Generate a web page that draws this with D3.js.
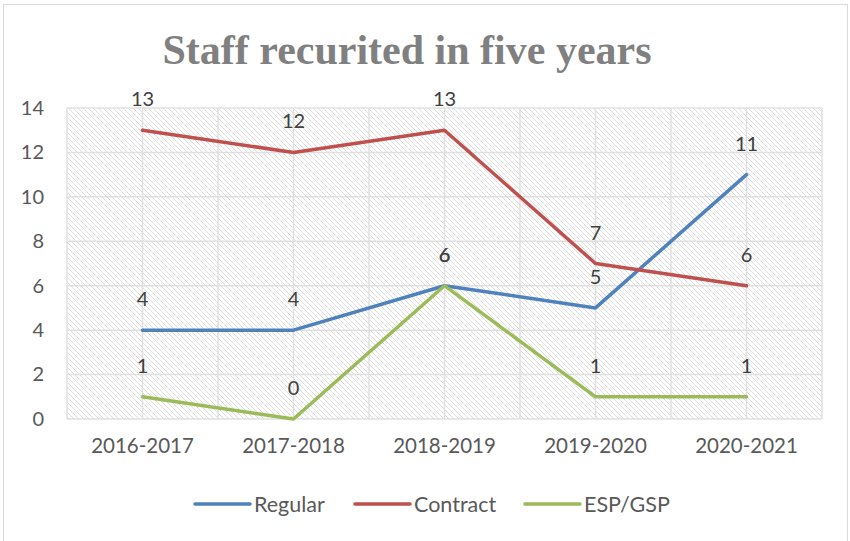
<!DOCTYPE html>
<html>
<head>
<meta charset="utf-8">
<script src="https://cdn.jsdelivr.net/npm/d3@7"></script>
<style>
  body { margin: 0; background: #fff; }
  svg { display: block; }
</style>
</head>
<body>
<svg id="chart" width="850" height="541"></svg>
<script>
(function() {
  var years = ["2016-2017", "2017-2018", "2018-2019", "2019-2020", "2020-2021"];
  var regular = [4, 4, 6, 5, 11];
  var contract = [13, 12, 13, 7, 6];
  var espGsp = [1, 0, 6, 1, 1];
  var yTicks = [0, 2, 4, 6, 8, 10, 12, 14];

  var series = [
    {name: "Regular", values: regular, color: "#4f81bd"},
    {name: "Contract", values: contract, color: "#c0504d"},
    {name: "ESP/GSP", values: espGsp, color: "#9bbb59"}
  ];

  var svg = d3.select("#chart"),
      left = 67, right = 822, top = 108, bottom = 419,
      font = "Lato, 'Open Sans', sans-serif";

  var x = d3.scaleBand().domain(years).range([left, right]),
      y = d3.scaleLinear().domain([0, 14]).range([bottom, top]),
      cx = function(i) { return x(years[i]) + x.bandwidth() / 2; };

  // outer chart border
  svg.append("rect")
    .attr("x", 3.5).attr("y", 4.5)
    .attr("width", 844).attr("height", 545)
    .attr("fill", "none").attr("stroke", "#d9d9d9");

  // hatch fill for the plot area
  var pat = svg.append("defs").append("pattern")
    .attr("id", "hatch")
    .attr("patternUnits", "userSpaceOnUse")
    .attr("width", 5).attr("height", 5);
  pat.append("path")
    .attr("d", "M-1,-1 L6,6 M-1,4 L1,6 M4,-1 L6,1")
    .attr("stroke", "#dadada").attr("stroke-width", 0.9);

  svg.append("rect")
    .attr("x", left).attr("y", top)
    .attr("width", right - left).attr("height", bottom - top)
    .attr("fill", "url(#hatch)");

  // gridlines
  var grid = svg.append("g").attr("stroke", "#e0e0e0").attr("stroke-width", 1.5);
  grid.selectAll(".h").data(yTicks).enter().append("line")
    .attr("x1", left).attr("x2", right)
    .attr("y1", function(d) { return y(d); })
    .attr("y2", function(d) { return y(d); });
  var vPos = [];
  years.forEach(function(c) { vPos.push(x(c), x(c) + x.bandwidth() / 2); });
  vPos.push(right);
  grid.selectAll(".v").data(vPos).enter().append("line")
    .attr("x1", function(d) { return d; }).attr("x2", function(d) { return d; })
    .attr("y1", top).attr("y2", bottom);

  // y axis labels
  var yAxis = svg.append("g").attr("transform", "translate(" + (left - 10) + ",0)")
    .call(d3.axisLeft(y).tickValues(yTicks).tickSize(0).tickPadding(13));
  yAxis.select(".domain").remove();
  yAxis.selectAll("text")
    .attr("font-family", font).attr("font-size", 20).attr("fill", "#595959");

  // x axis labels
  var xAxis = svg.append("g").attr("transform", "translate(0," + bottom + ")")
    .call(d3.axisBottom(x).tickSize(0).tickPadding(19));
  xAxis.select(".domain").remove();
  xAxis.selectAll("text")
    .attr("font-family", font).attr("font-size", 20.5).attr("fill", "#595959");

  // lines
  var line = d3.line()
    .x(function(d, i) { return cx(i); })
    .y(function(d) { return y(d); });

  svg.selectAll(".series").data(series).enter().append("path")
    .attr("d", function(s) { return line(s.values); })
    .attr("fill", "none")
    .attr("stroke", function(s) { return s.color; })
    .attr("stroke-width", 3.5)
    .attr("stroke-linejoin", "round")
    .attr("stroke-linecap", "round");

  // data labels
  series.forEach(function(s) {
    svg.append("g").selectAll("text").data(s.values).enter().append("text")
      .attr("x", function(d, i) { return cx(i); })
      .attr("y", function(d) { return y(d) - 24; })
      .attr("text-anchor", "middle")
      .attr("font-family", font).attr("font-size", 20).attr("fill", "#404040")
      .text(function(d) { return d; });
  });

  // title
  svg.append("text")
    .attr("x", 407).attr("y", 64)
    .attr("text-anchor", "middle")
    .attr("font-family", "'Liberation Serif', 'DejaVu Serif', serif")
    .attr("font-weight", "bold").attr("font-size", 42)
    .attr("fill", "#808080")
    .text("Staff recurited in five years");

  // legend
  var legX = [195, 355, 525];
  var leg = svg.append("g").selectAll("g").data(series).enter().append("g")
    .attr("transform", function(s, i) { return "translate(" + legX[i] + ",504)"; });
  leg.append("line")
    .attr("x1", 0).attr("x2", 55)
    .attr("stroke", function(s) { return s.color; })
    .attr("stroke-width", 3.5).attr("stroke-linecap", "round");
  leg.append("text")
    .attr("x", 59).attr("y", 7.5)
    .attr("font-family", font).attr("font-size", 21.5).attr("fill", "#595959")
    .text(function(s) { return s.name; });
})();
</script>
</body>
</html>
